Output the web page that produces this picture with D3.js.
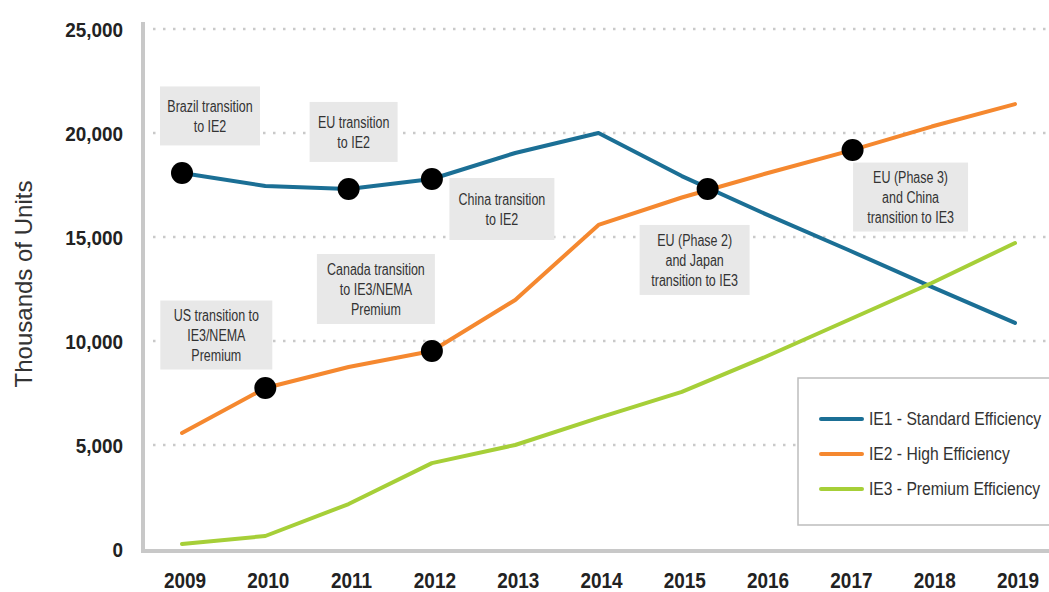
<!DOCTYPE html>
<html>
<head>
<meta charset="utf-8">
<script src="https://cdn.jsdelivr.net/npm/d3@7"></script>
<style>
    body { margin: 0; background: #fff; }
    .cond { font-family: "Liberation Sans", Arial, sans-serif; }
</style>
</head>
<body>
<svg id="chart"></svg>
<script>
    // chart data
    const years = [2009, 2010, 2011, 2012, 2013, 2014, 2015, 2016, 2017, 2018, 2019];
    const ie1 = [18080, 17450, 17310, 17790, 19040, 20000, 17930, 16110, 14375, 12600, 10870];
    const ie2 = [5580, 7740, 8750, 9520, 11970, 15580, 16900, 18040, 19130, 20310, 21390];
    const ie3 = [240, 625, 2160, 4130, 5000, 6300, 7550, 9230, 11010, 12790, 14710];
    const seriesNames = ["IE1 - Standard Efficiency", "IE2 - High Efficiency", "IE3 - Premium Efficiency"];
    const yTicks = [0, 5000, 10000, 15000, 20000, 25000];

    // transition events: year, value on the line, label
    const eventYears = [2009, 2011, 2012, 2010, 2012, 2015.31, 2017.05];
    const eventValues = [18080, 17310, 17790, 7740, 9520, 17310, 19180];
    const eventLabels = [
        ["Brazil transition", "to IE2"],
        ["EU transition", "to IE2"],
        ["China transition", "to IE2"],
        ["US transition to", "IE3/NEMA", "Premium"],
        ["Canada transition", "to IE3/NEMA", "Premium"],
        ["EU (Phase 2)", "and Japan", "transition to IE3"],
        ["EU (Phase 3)", "and China", "transition to IE3"]
    ];

    // label box layout (offset from marker, size)
    const boxLayout = [
        { dx: 28, dy: -57, w: 100, h: 59 },
        { dx: 5, dy: -57, w: 88, h: 60 },
        { dx: 70, dy: 30, w: 105, h: 62 },
        { dx: -49, dy: -53, w: 112, h: 69 },
        { dx: -56, dy: -62, w: 118, h: 70 },
        { dx: -13, dy: 71, w: 110, h: 70 },
        { dx: 58, dy: 47, w: 115, h: 69 }
    ];

    const width = 1049;
    const height = 592;
    const colors = ["#1b6f95", "#f5882f", "#a6cf38"];

    // no condensed face installed, so squeeze the glyphs horizontally
    function squeeze(sel, f) {
        sel.each(function() {
            const len = this.getComputedTextLength();
            d3.select(this)
                .attr("textLength", len * f)
                .attr("lengthAdjust", "spacingAndGlyphs");
        });
    }

    const svg = d3.select("#chart").attr("width", width).attr("height", height);

    const x = d3.scaleLinear().domain([2009, 2019]).range([182, 1015]);
    const y = d3.scaleLinear().domain([0, 25000]).range([549, 29]);

    // gridlines
    svg.append("g")
        .selectAll("line")
        .data(yTicks.filter(d => d > 0))
        .enter().append("line")
        .attr("x1", 153).attr("x2", width)
        .attr("y1", d => y(d)).attr("y2", d => y(d))
        .style("stroke", "#c9c9c9")
        .style("stroke-width", 2.5)
        .style("stroke-dasharray", "2.5,7.5");

    // axis lines
    svg.append("line")
        .attr("x1", 143).attr("x2", 143).attr("y1", 22).attr("y2", 553)
        .style("stroke", "#c8c8c8").style("stroke-width", 4);
    svg.append("line")
        .attr("x1", 141).attr("x2", width).attr("y1", 551).attr("y2", 551)
        .style("stroke", "#c8c8c8").style("stroke-width", 4);

    // y tick labels
    svg.append("g")
        .selectAll("text")
        .data(yTicks)
        .enter().append("text")
        .attr("class", "cond")
        .attr("x", 123)
        .attr("y", d => y(d))
        .attr("dy", "0.36em")
        .attr("text-anchor", "end")
        .style("font-size", "21px")
        .style("font-weight", "bold")
        .style("fill", "#222")
        .text(d => d3.format(",")(d))
        .call(squeeze, 0.9);

    // x tick labels
    svg.append("g")
        .selectAll("text")
        .data(years)
        .enter().append("text")
        .attr("class", "cond")
        .attr("x", d => x(d) + 3)
        .attr("y", 580)
        .attr("dy", "0.36em")
        .attr("text-anchor", "middle")
        .style("font-size", "22px")
        .style("font-weight", "bold")
        .style("fill", "#222")
        .text(d => d)
        .call(squeeze, 0.86);

    // y title
    svg.append("text")
        .attr("transform", "translate(32,284) rotate(-90)")
        .attr("text-anchor", "middle")
        .style("font-family", "'Liberation Sans', Arial, sans-serif")
        .style("font-size", "24px")
        .style("fill", "#333")
        .text("Thousands of Units");

    // label boxes
    const boxes = svg.append("g")
        .selectAll("g")
        .data(eventLabels)
        .enter().append("g")
        .attr("transform", (d, i) => {
            const cx = x(eventYears[i]) + boxLayout[i].dx;
            const cy = y(eventValues[i]) + boxLayout[i].dy;
            return `translate(${cx},${cy})`;
        });

    boxes.append("rect")
        .attr("x", (d, i) => -boxLayout[i].w / 2)
        .attr("y", (d, i) => -boxLayout[i].h / 2)
        .attr("width", (d, i) => boxLayout[i].w)
        .attr("height", (d, i) => boxLayout[i].h)
        .style("fill", "#e8e8e8");

    boxes.each(function(lines) {
        const g = d3.select(this);
        const n = lines.length;
        lines.forEach((t, k) => {
            g.append("text")
                .attr("class", "cond")
                .attr("x", 0)
                .attr("y", (k - (n - 1) / 2) * 20)
                .attr("dy", "0.36em")
                .attr("text-anchor", "middle")
                .style("font-size", "16px")
                .style("fill", "#333")
                .text(t)
                .call(squeeze, 0.78);
        });
    });

    // series lines
    const line = d3.line()
        .x((d, i) => x(years[i]))
        .y(d => y(d));

    [ie1, ie2, ie3].forEach((s, i) => {
        svg.append("path")
            .datum(s)
            .attr("d", line)
            .style("fill", "none")
            .style("stroke", colors[i])
            .style("stroke-width", 4)
            .style("stroke-linecap", "round")
            .style("stroke-linejoin", "round");
    });

    // markers
    svg.append("g")
        .selectAll("circle")
        .data(eventYears)
        .enter().append("circle")
        .attr("cx", d => x(d))
        .attr("cy", (d, i) => y(eventValues[i]))
        .attr("r", 11)
        .style("fill", "#000");

    // legend
    const legend = svg.append("g");
    legend.append("rect")
        .attr("x", 798).attr("y", 378)
        .attr("width", 270).attr("height", 147)
        .style("fill", "#fff")
        .style("stroke", "#bdbdbd")
        .style("stroke-width", 1.5);

    seriesNames.forEach((name, i) => {
        const ly = 419 + i * 35;
        legend.append("line")
            .attr("x1", 821).attr("x2", 862)
            .attr("y1", ly).attr("y2", ly)
            .style("stroke", colors[i])
            .style("stroke-width", 4)
            .style("stroke-linecap", "round");
        legend.append("text")
            .attr("class", "cond")
            .attr("x", 869)
            .attr("y", ly)
            .attr("dy", "0.36em")
            .style("font-size", "18px")
            .style("fill", "#333")
            .text(name)
            .call(squeeze, 0.87);
    });
</script>
</body>
</html>
